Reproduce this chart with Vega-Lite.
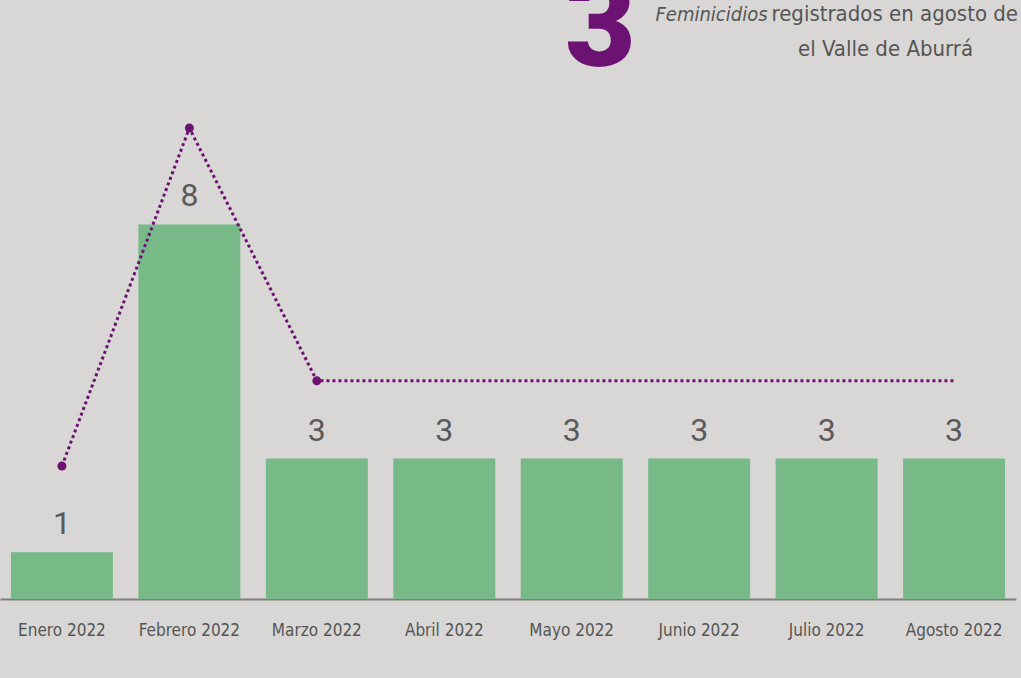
{
  "$schema": "https://vega.github.io/schema/vega-lite/v6.json",
  "autosize": {"type": "none"},
  "width": 1016,
  "height": 515,
  "padding": {"left": 0, "top": 84, "right": 5, "bottom": 79},
  "background": "#d8d7d5",
  "config": {"view": {"stroke": null}},
  "title": {
    "text": "3",
    "anchor": "start",
    "frame": "group",
    "font": "Roboto",
    "fontWeight": 900,
    "fontSize": 122,
    "color": "#6b1273",
    "baseline": "alphabetic",
    "offset": 0,
    "dx": 565,
    "dy": 186
  },
  "data": {
    "values": [
      {"mes": "Enero 2022", "valor": 1, "linea": 2.84, "punto": true},
      {"mes": "Febrero 2022", "valor": 8, "linea": 10.06, "punto": true},
      {"mes": "Marzo 2022", "valor": 3, "linea": 4.66, "punto": true},
      {"mes": "Abril 2022", "valor": 3, "linea": 4.66, "punto": false},
      {"mes": "Mayo 2022", "valor": 3, "linea": 4.66, "punto": false},
      {"mes": "Junio 2022", "valor": 3, "linea": 4.66, "punto": false},
      {"mes": "Julio 2022", "valor": 3, "linea": 4.66, "punto": false},
      {"mes": "Agosto 2022", "valor": 3, "linea": 4.66, "punto": false}
    ]
  },
  "resolve": {"axis": {"x": "independent", "y": "independent"}},
  "layer": [
    {
      "mark": {"type": "bar", "color": "#77b987"},
      "encoding": {
        "x": {
          "field": "mes", "type": "nominal", "sort": null,
          "scale": {"paddingInner": 0.2, "paddingOuter": 0.086},
          "axis": {
            "orient": "bottom", "title": null, "ticks": false,
            "labelAngle": 0, "labelFont": "DejaVu Sans Condensed",
            "labelFontSize": 17, "labelColor": "#555555", "labelPadding": 23,
            "domainColor": "#7f7f7f", "domainWidth": 2
          }
        },
        "y": {
          "field": "valor", "type": "quantitative",
          "scale": {"domain": [0, 11], "nice": false},
          "axis": {
            "orient": "left", "labels": false, "ticks": false, "domain": false, "grid": false,
            "title": "Feminicidios", "titleAngle": 0, "titleX": 655, "titleY": -64,
            "titleAlign": "left", "titleBaseline": "alphabetic",
            "titleFont": "DejaVu Sans Condensed", "titleFontStyle": "italic", "titleFontWeight": "normal",
            "titleFontSize": 20, "titleColor": "#555555"
          }
        }
      }
    },
    {
      "mark": {"type": "text", "font": "Roboto", "fontSize": 32, "color": "#5a5a5a", "baseline": "alphabetic", "dy": -18},
      "encoding": {
        "x": {"field": "mes", "type": "nominal", "sort": null, "axis": null},
        "y": {"field": "valor", "type": "quantitative", "axis": null},
        "text": {"field": "valor"}
      }
    },
    {
      "mark": {"type": "line", "color": "#6b1273", "strokeWidth": 3, "strokeDash": [3, 3]},
      "encoding": {
        "x": {
          "field": "mes", "type": "nominal", "sort": null,
          "axis": {
            "orient": "top", "labels": false, "ticks": false, "domain": false,
            "title": "el Valle de Aburrá", "titleX": 885, "titleY": -29,
            "titleAlign": "center", "titleBaseline": "alphabetic",
            "titleFont": "DejaVu Sans Condensed", "titleFontWeight": "normal",
            "titleFontSize": 22, "titleColor": "#555555"
          }
        },
        "y": {
          "field": "linea", "type": "quantitative",
          "scale": {"domain": [0, 11], "nice": false},
          "axis": {
            "orient": "right", "labels": false, "ticks": false, "domain": false, "grid": false,
            "title": "registrados en agosto de 2022 en", "titleAngle": 0, "titleX": -245, "titleY": -64,
            "titleAlign": "left", "titleBaseline": "alphabetic",
            "titleFont": "DejaVu Sans Condensed", "titleFontWeight": "normal",
            "titleFontSize": 22, "titleColor": "#555555"
          }
        }
      }
    },
    {
      "transform": [{"filter": "datum.punto"}],
      "mark": {"type": "point", "filled": true, "color": "#6b1273", "size": 80, "opacity": 1},
      "encoding": {
        "x": {"field": "mes", "type": "nominal", "sort": null, "axis": null},
        "y": {"field": "linea", "type": "quantitative", "axis": null}
      }
    }
  ]
}
